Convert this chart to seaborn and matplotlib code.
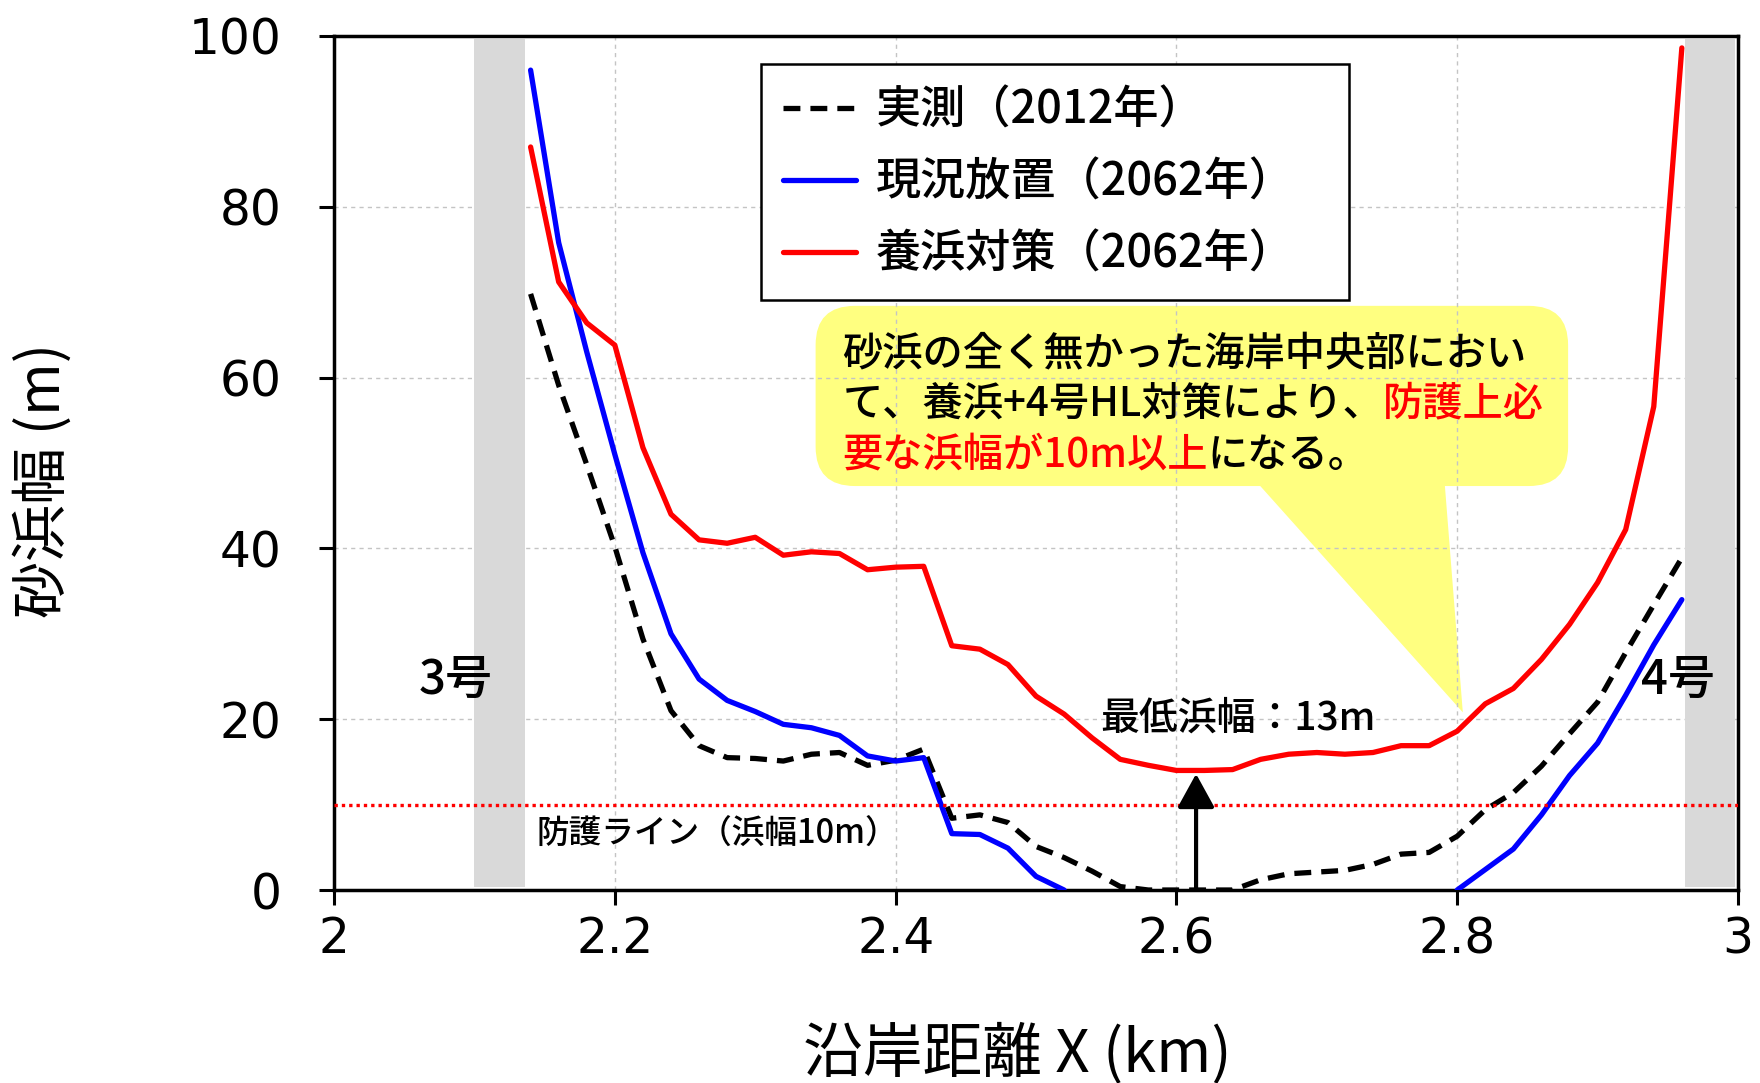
import numpy as np
import pandas as pd
import matplotlib
matplotlib.use("Agg")
import matplotlib.pyplot as plt
import seaborn as sns
from matplotlib.patches import FancyBboxPatch, Polygon
from matplotlib.lines import Line2D

# ---------------- data ----------------
x_km = [2.14, 2.16, 2.18, 2.20, 2.22, 2.24, 2.26, 2.28, 2.30, 2.32, 2.34,
        2.36, 2.38, 2.40, 2.42, 2.44, 2.46, 2.48, 2.50, 2.52, 2.54, 2.56,
        2.58, 2.60, 2.62, 2.64, 2.66, 2.68, 2.70, 2.72, 2.74, 2.76, 2.78,
        2.80, 2.82, 2.84, 2.86, 2.88, 2.90, 2.92, 2.94, 2.96]

measured_2012 = [69.8, 59.1, 49.8, 40.2, 29.4, 21.0, 16.9, 15.5, 15.4, 15.1,
                 15.9, 16.1, 14.6, 15.2, 16.5, 8.4, 8.8, 7.9, 5.1, 3.8, 2.2,
                 0.4, 0.0, 0.0, 0.0, 0.0, 1.2, 1.9, 2.1, 2.3, 3.0, 4.2, 4.4,
                 6.3, 9.4, 11.4, 14.5, 18.3, 22.0, 27.8, 33.4, 38.9]

no_action_2062 = [96.0, 75.8, 63.0, 51.0, 39.5, 30.0, 24.7, 22.2, 20.9, 19.4,
                  19.0, 18.1, 15.7, 15.1, 15.5, 6.6, 6.5, 4.9, 1.6, 0.0,
                  np.nan, np.nan, np.nan, np.nan, np.nan, np.nan, np.nan,
                  np.nan, np.nan, np.nan, np.nan, np.nan, np.nan,
                  0.0, 2.4, 4.8, 8.8, 13.4, 17.2, 22.8, 28.7, 34.0]

nourish_2062 = [87.0, 71.2, 66.4, 63.8, 51.8, 44.0, 41.0, 40.6, 41.3, 39.2,
                39.6, 39.4, 37.5, 37.8, 37.9, 28.6, 28.2, 26.4, 22.7, 20.6,
                17.8, 15.3, 14.6, 14.0, 14.0, 14.1, 15.3, 15.9, 16.1, 15.9,
                16.1, 16.9, 16.9, 18.6, 21.8, 23.6, 27.0, 31.1, 36.0, 42.2,
                56.6, 98.6]

series_labels = ["実測（2012年）", "現況放置（2062年）", "養浜対策（2062年）"]
series_colors = ["black", "#0000ff", "#ff0000"]

x_ticks = [2.0, 2.2, 2.4, 2.6, 2.8, 3.0]
x_tick_labels = ["2", "2.2", "2.4", "2.6", "2.8", "3"]
y_ticks = [0, 20, 40, 60, 80, 100]
y_tick_labels = ["0", "20", "40", "60", "80", "100"]

protect_width = 10
protect_label = "防護ライン（浜幅10m）"
groyne_labels = ["3号", "4号"]
groyne_spans = [(2.100, 2.136), (2.962, 2.998)]
min_label = "最低浜幅：13m"
min_x = 2.614
min_y = 13.6

callout_lines = [
    [("砂浜の全く無かった海岸中央部におい", "black")],
    [("て、養浜+4号HL対策により、", "black"), ("防護上必", "#ff0000")],
    [("要な浜幅が10m以上", "#ff0000"), ("になる。", "black")],
]

# ---------------- style ----------------
sns.set_theme(style="white")
plt.rcParams['font.family'] = ['Noto Sans CJK JP', 'DejaVu Sans']
plt.rcParams['font.weight'] = 'medium'
plt.rcParams['text.color'] = 'black'
plt.rcParams['axes.labelcolor'] = 'black'
plt.rcParams['axes.unicode_minus'] = False

LW = 3.8
DASH = (0, (3.2, 1.9))

fig = plt.figure(figsize=(17.6, 10.83), dpi=100)
ax = fig.add_axes([0.1898, 0.1782, 0.7977, 0.7886])
ax.set_xlim(2.0, 3.0)
ax.set_ylim(0, 100)

ax.set_axisbelow(True)
ax.grid(True, color="#c4c4c4", linestyle=(0, (3, 3)), linewidth=1.0)

# callout box (under grid)
bx0, bx1, by0, by1 = 2.343, 2.879, 47.3, 68.4
box = FancyBboxPatch((bx0, by0), bx1 - bx0, by1 - by0,
                     boxstyle="round,pad=0,rounding_size=0.028",
                     mutation_aspect=164, facecolor="#ffff80",
                     edgecolor="none", zorder=0.4)
ax.add_patch(box)
ax.add_patch(Polygon([(2.657, by0 + 0.5), (2.804, 20.8), (2.791, by0 + 0.5)],
                     closed=True, facecolor="#ffff80", edgecolor="none",
                     zorder=0.4))

# groyne bands
for (g0, g1) in groyne_spans:
    ax.axvspan(g0, g1, ymin=0.004, ymax=0.996, facecolor="#d9d9d9",
               edgecolor="none", zorder=1)

# lines
df_m = pd.DataFrame({"x": x_km, "y": measured_2012})
sns.lineplot(data=df_m, x="x", y="y", color=series_colors[0], linewidth=LW,
             linestyle=DASH, ax=ax, zorder=3)

df_b = pd.DataFrame({"x": x_km, "y": no_action_2062})
df_b["seg"] = df_b["y"].isna().cumsum()
df_b = df_b.dropna()
sns.lineplot(data=df_b, x="x", y="y", units="seg", estimator=None,
             color=series_colors[1], linewidth=LW, ax=ax, zorder=3)

df_r = pd.DataFrame({"x": x_km, "y": nourish_2062})
sns.lineplot(data=df_r, x="x", y="y", color=series_colors[2], linewidth=LW,
             ax=ax, zorder=3)

# protection line
ax.axhline(protect_width, color="#ff0000", linestyle=(0, (1.0, 1.2)),
           linewidth=2.4, zorder=4)

# arrow to minimum
ax.annotate("", xy=(min_x, min_y), xytext=(min_x, 0),
            arrowprops=dict(arrowstyle="-|>,head_length=0.4,head_width=0.22",
                            color="black", lw=3, shrinkA=0, shrinkB=0,
                            mutation_scale=52), zorder=5)

# texts
ax.text(2.546, 20.1, min_label, fontsize=28, ha="left", va="center", zorder=6)
ax.text(2.144, 6.6, protect_label, fontsize=23.5, ha="left", va="center", zorder=6)
ax.text(2.087, 24.6, groyne_labels[0], fontsize=34, ha="center", va="center", zorder=6)
ax.text(2.957, 24.6, groyne_labels[1], fontsize=34, ha="center", va="center", zorder=6)

line_y = [62.8, 56.9, 50.9]
for parts, yy in zip(callout_lines, line_y):
    prev = None
    for txt, col in parts:
        if prev is None:
            prev = ax.text(2.362, yy, txt, fontsize=29, color=col,
                           ha="left", va="center", zorder=6)
        else:
            prev = ax.annotate(txt, xy=(1, 0), xycoords=prev, fontsize=29,
                               color=col, ha="left", va="bottom", zorder=6)

# legend
handles = [Line2D([], [], color=series_colors[0], lw=LW, linestyle=DASH),
           Line2D([], [], color=series_colors[1], lw=LW),
           Line2D([], [], color=series_colors[2], lw=LW)]
leg = ax.legend(handles, series_labels, loc="upper left",
                bbox_to_anchor=(0.304, 0.696, 0.419, 0.271), mode="expand",
                fontsize=32.5, frameon=True,
                fancybox=False, framealpha=1, edgecolor="black",
                borderaxespad=0, handlelength=1.6, handletextpad=0.45,
                labelspacing=0.55, borderpad=0.5)
leg.get_frame().set_linewidth(1.8)
leg.set_zorder(7)

# axes styling
ax.set_xticks(x_ticks)
ax.set_xticklabels(x_tick_labels)
ax.set_yticks(y_ticks)
ax.set_yticklabels(y_tick_labels)
ax.tick_params(axis="both", direction="out", length=11, width=2.2,
               color="black", labelcolor="black", bottom=True, left=True,
               labelsize=35, labelfontfamily="DejaVu Sans")
ax.tick_params(axis="y", pad=27)
ax.tick_params(axis="x", pad=7)
for sp in ax.spines.values():
    sp.set_visible(True)
    sp.set_color("black")
    sp.set_linewidth(2.5)

ax.set_xlabel("沿岸距離 X (km)", fontsize=43)
ax.set_ylabel("砂浜幅 (m)", fontsize=41)
ax.xaxis.set_label_coords(0.487, -0.156)
ax.yaxis.set_label_coords(-0.186, 0.48)

fig.savefig("out.png", dpi=100)
